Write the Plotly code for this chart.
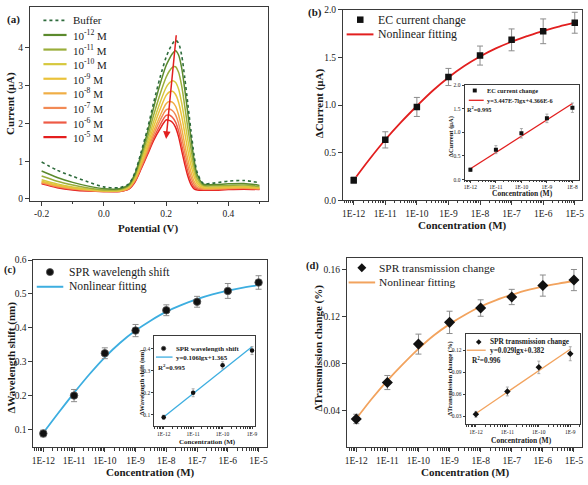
import math
import plotly.graph_objects as go

W, H = 588, 485
SERIF = "Liberation Serif"
AXC = "#3a3a3a"
TXT = "#1a1a1a"


def px(x):
    return x / W


def py(y):
    return 1 - y / H


# ---------------- data: (a) DPV curves ----------------
POTENTIAL = [-0.2, -0.15, -0.1, -0.05, 0.0, 0.05, 0.08, 0.1, 0.12, 0.14, 0.16, 0.18, 0.2, 0.21,
             0.22, 0.23, 0.24, 0.25, 0.26, 0.27, 0.28, 0.29, 0.3, 0.32, 0.35, 0.4, 0.45, 0.5]
BUFFER = [0.98, 0.76, 0.60, 0.45, 0.32, 0.30, 0.40, 0.70, 1.25, 1.85, 2.55, 3.20, 3.75, 3.95,
          4.10, 4.20, 4.12, 3.80, 3.20, 2.50, 1.80, 1.15, 0.70, 0.41, 0.42, 0.47, 0.49, 0.43]
C_1E12 = [0.74, 0.57, 0.44, 0.34, 0.27, 0.27, 0.38, 0.67, 1.19, 1.76, 2.42, 3.02, 3.53, 3.70,
          3.84, 3.92, 3.81, 3.47, 2.90, 2.25, 1.61, 1.03, 0.64, 0.39, 0.38, 0.40, 0.41, 0.36]
C_1E11 = [0.61, 0.47, 0.37, 0.29, 0.24, 0.25, 0.35, 0.62, 1.10, 1.63, 2.22, 2.76, 3.22, 3.38,
          3.48, 3.50, 3.35, 2.99, 2.45, 1.87, 1.33, 0.86, 0.55, 0.36, 0.35, 0.36, 0.37, 0.33]
C_1E10 = [0.51, 0.40, 0.32, 0.26, 0.22, 0.23, 0.33, 0.58, 1.03, 1.51, 2.05, 2.54, 2.95, 3.07,
          3.13, 3.09, 2.91, 2.54, 2.06, 1.55, 1.09, 0.71, 0.47, 0.33, 0.32, 0.33, 0.34, 0.31]
C_1E9 = [0.47, 0.37, 0.30, 0.25, 0.21, 0.22, 0.31, 0.54, 0.96, 1.41, 1.91, 2.36, 2.74, 2.83,
         2.85, 2.77, 2.56, 2.19, 1.74, 1.28, 0.89, 0.59, 0.41, 0.30, 0.30, 0.31, 0.32, 0.29]
C_1E8 = [0.45, 0.35, 0.28, 0.24, 0.21, 0.21, 0.29, 0.51, 0.90, 1.33, 1.79, 2.19, 2.52, 2.58,
         2.56, 2.46, 2.23, 1.87, 1.44, 1.04, 0.71, 0.47, 0.35, 0.28, 0.28, 0.29, 0.30, 0.28]
C_1E7 = [0.43, 0.33, 0.27, 0.23, 0.20, 0.21, 0.28, 0.49, 0.86, 1.27, 1.70, 2.07, 2.36, 2.38,
         2.34, 2.23, 2.00, 1.63, 1.24, 0.87, 0.58, 0.39, 0.30, 0.26, 0.26, 0.28, 0.29, 0.27]
C_1E6 = [0.42, 0.32, 0.26, 0.22, 0.20, 0.20, 0.27, 0.47, 0.83, 1.21, 1.61, 1.95, 2.21, 2.22,
         2.16, 2.04, 1.80, 1.43, 1.06, 0.71, 0.47, 0.32, 0.27, 0.25, 0.25, 0.27, 0.28, 0.26]
C_1E5 = [0.40, 0.30, 0.24, 0.21, 0.20, 0.20, 0.26, 0.45, 0.80, 1.17, 1.55, 1.85, 2.09, 2.08,
         2.03, 1.90, 1.65, 1.28, 0.92, 0.60, 0.38, 0.27, 0.24, 0.23, 0.23, 0.25, 0.26, 0.25]
DPV_NAMES = ["Buffer", "10<sup>-12</sup> M", "10<sup>-11</sup> M", "10<sup>-10</sup> M",
             "10<sup>-9</sup> M", "10<sup>-8</sup> M", "10<sup>-7</sup> M", "10<sup>-6</sup> M",
             "10<sup>-5</sup> M"]
DPV_COLORS = ["#2E6B3C", "#5B8A2D", "#9AAE3A", "#D6C83E", "#EAC23A", "#F0AE45", "#F28A55",
              "#EE5A45", "#E41E1E"]

# ---------------- data: concentration responses ----------------
CONC_EXP = [-12, -11, -10, -9, -8, -7, -6, -5]
CONC_LABELS = ["1E-12", "1E-11", "1E-10", "1E-9", "1E-8", "1E-7", "1E-6", "1E-5"]
FIT_EXP = [-12, -11.5, -11, -10.5, -10, -9.5, -9, -8.5, -8, -7.5, -7, -6.5, -6, -5.5, -5]

EC_CURRENT = [0.21, 0.634, 0.98, 1.295, 1.52, 1.685, 1.775, 1.865]
EC_ERR = [0.035, 0.085, 0.10, 0.09, 0.10, 0.115, 0.13, 0.11]
EC_FIT = [0.21, 0.43, 0.635, 0.82, 0.99, 1.15, 1.29, 1.41, 1.51, 1.595, 1.665, 1.725, 1.78,
          1.825, 1.865]
EC_LINEAR = [0.23, 1.61]

SPR_SHIFT = [0.088, 0.200, 0.325, 0.392, 0.452, 0.477, 0.509, 0.534]
SPR_SHIFT_ERR = [0.010, 0.018, 0.016, 0.018, 0.016, 0.016, 0.022, 0.020]
SHIFT_FIT = [0.09, 0.15, 0.208, 0.263, 0.313, 0.356, 0.392, 0.422, 0.448, 0.468, 0.485, 0.499,
             0.51, 0.519, 0.526]
SHIFT_LINEAR = [0.09, 0.41]

SPR_TRANS = [0.0328, 0.0638, 0.0965, 0.115, 0.1272, 0.1366, 0.1463, 0.151]
SPR_TRANS_ERR = [0.004, 0.006, 0.0085, 0.0095, 0.007, 0.0065, 0.009, 0.009]
TRANS_FIT = [0.033, 0.05, 0.0655, 0.0795, 0.0925, 0.104, 0.1135, 0.1215, 0.1285, 0.134, 0.1385,
             0.1425, 0.1455, 0.148, 0.1502]
TRANS_LINEAR = [0.034, 0.121]

RED = "#E21F1F"
BLUE = "#3DAEE0"
ORANGE = "#F2A35E"

fig = go.Figure()

# ---- panel (a) ----
dpv_series = [BUFFER, C_1E12, C_1E11, C_1E10, C_1E9, C_1E8, C_1E7, C_1E6, C_1E5]
for i in range(len(dpv_series) - 1, -1, -1):
    fig.add_trace(go.Scatter(
        x=POTENTIAL, y=dpv_series[i], mode="lines", xaxis="x", yaxis="y",
        line=dict(color=DPV_COLORS[i], width=1.5 if i else 1.6, shape="spline", smoothing=0.8,
                  dash="dot" if i == 0 else "solid"),
        showlegend=False, hoverinfo="skip"))

err_style = dict(type="data", color="#8c8c8c", thickness=1, width=3)
ins_err = dict(type="data", color="#999", thickness=0.8, width=1.5)

# ---- panel (b) ----
fig.add_trace(go.Scatter(x=FIT_EXP, y=EC_FIT, mode="lines", xaxis="x2", yaxis="y2",
                         line=dict(color=RED, width=1.8, shape="spline"), showlegend=False))
fig.add_trace(go.Scatter(x=CONC_EXP, y=EC_CURRENT, mode="markers", xaxis="x2", yaxis="y2",
                         error_y=dict(array=EC_ERR, **err_style),
                         marker=dict(symbol="square", size=6.5, color="#111"), showlegend=False))
# inset (b)
fig.add_trace(go.Scatter(x=[CONC_EXP[0], CONC_EXP[4]], y=EC_LINEAR, mode="lines", xaxis="x5",
                         yaxis="y5", line=dict(color=RED, width=1.3), showlegend=False))
fig.add_trace(go.Scatter(x=CONC_EXP[:5], y=EC_CURRENT[:5], mode="markers", xaxis="x5", yaxis="y5",
                         error_y=dict(array=EC_ERR[:5], **ins_err),
                         marker=dict(symbol="square", size=4, color="#111"), showlegend=False))

# ---- panel (c) ----
fig.add_trace(go.Scatter(x=FIT_EXP, y=SHIFT_FIT, mode="lines", xaxis="x3", yaxis="y3",
                         line=dict(color=BLUE, width=1.8, shape="spline"), showlegend=False))
fig.add_trace(go.Scatter(x=CONC_EXP, y=SPR_SHIFT, mode="markers", xaxis="x3", yaxis="y3",
                         error_y=dict(array=SPR_SHIFT_ERR, **err_style),
                         marker=dict(symbol="circle", size=7.5, color="#111",
                                     line=dict(color="#555", width=0.8)), showlegend=False))
fig.add_trace(go.Scatter(x=[CONC_EXP[0], CONC_EXP[3]], y=SHIFT_LINEAR, mode="lines", xaxis="x6",
                         yaxis="y6", line=dict(color=BLUE, width=1.3), showlegend=False))
fig.add_trace(go.Scatter(x=CONC_EXP[:4], y=SPR_SHIFT[:4], mode="markers", xaxis="x6", yaxis="y6",
                         error_y=dict(array=SPR_SHIFT_ERR[:4], **ins_err),
                         marker=dict(symbol="circle", size=4.5, color="#111"), showlegend=False))

# ---- panel (d) ----
fig.add_trace(go.Scatter(x=FIT_EXP, y=TRANS_FIT, mode="lines", xaxis="x4", yaxis="y4",
                         line=dict(color=ORANGE, width=1.8, shape="spline"), showlegend=False))
fig.add_trace(go.Scatter(x=CONC_EXP, y=SPR_TRANS, mode="markers", xaxis="x4", yaxis="y4",
                         error_y=dict(array=SPR_TRANS_ERR, **err_style),
                         marker=dict(symbol="diamond", size=8.5, color="#111"), showlegend=False))
fig.add_trace(go.Scatter(x=[CONC_EXP[0], CONC_EXP[3]], y=TRANS_LINEAR, mode="lines", xaxis="x7",
                         yaxis="y7", line=dict(color=ORANGE, width=1.3), showlegend=False))
fig.add_trace(go.Scatter(x=CONC_EXP[:4], y=SPR_TRANS[:4], mode="markers", xaxis="x7", yaxis="y7",
                         error_y=dict(array=SPR_TRANS_ERR[:4], **ins_err),
                         marker=dict(symbol="diamond", size=5, color="#111"), showlegend=False))


# ---------------- axes ----------------
def log_minor(lo, hi):
    vals = []
    for k in range(-13, -3):
        for m in range(2, 10):
            v = k + math.log10(m)
            if lo < v < hi:
                vals.append(v)
    return vals


def axis(x0, x1, anchor, rng, tickvals, ticktext, fsize, tlen, minor=None, horiz=True):
    if horiz:
        dom = [px(x0), px(x1)]
    else:
        dom = [py(x1), py(x0)]
    d = dict(domain=dom, anchor=anchor, range=rng, tickmode="array", tickvals=tickvals,
             ticktext=ticktext, showline=True, linecolor=AXC, linewidth=1, mirror=True,
             ticks="outside", ticklen=tlen, tickwidth=1, tickcolor=AXC,
             tickfont=dict(family=SERIF, size=fsize, color=TXT), showgrid=False,
             zeroline=False, fixedrange=True)
    if minor is not None:
        d["minor"] = dict(tickvals=minor, ticks="outside", ticklen=max(1.5, tlen * 0.55),
                          tickcolor=AXC, tickwidth=1, showgrid=False)
    return d


MAIN_F = 9.5
INS_F = 5.5
layout = dict(
    width=W, height=H, autosize=False, margin=dict(l=0, r=0, t=0, b=0),
    paper_bgcolor="white", plot_bgcolor="white", showlegend=False,
    xaxis=axis(28, 268, "y", [-0.238, 0.528], [-0.2, 0.0, 0.2, 0.4],
               ["-0.2", "0.0", "0.2", "0.4"], MAIN_F, 4, minor=[-0.1, 0.1, 0.3, 0.5]),
    yaxis=axis(2, 200, "x", [-0.05, 5.08], [0, 1, 2, 3, 4], ["0", "1", "2", "3", "4"],
               MAIN_F, 4, horiz=False),
    xaxis2=axis(343.3, 584, "y2", [-12.34, -4.77], CONC_EXP, CONC_LABELS, MAIN_F, 4,
                minor=log_minor(-12.34, -4.77)),
    yaxis2=axis(5, 199.3, "x2", [0, 2.0], [0, 0.5, 1.0, 1.5, 2.0],
                ["0.0", "0.5", "1.0", "1.5", "2.0"], MAIN_F, 4, horiz=False),
    xaxis3=axis(31.7, 266.7, "y3", [-12.32, -4.73], CONC_EXP, CONC_LABELS, MAIN_F, 4,
                minor=log_minor(-12.32, -4.73)),
    yaxis3=axis(260.5, 451.7, "x3", [0.047, 0.6], [0.1, 0.2, 0.3, 0.4, 0.5, 0.6],
                ["0.1", "0.2", "0.3", "0.4", "0.5", "0.6"], MAIN_F, 4, horiz=False),
    xaxis4=axis(347.3, 584, "y4", [-12.3, -4.74], CONC_EXP, CONC_LABELS, MAIN_F, 4,
                minor=log_minor(-12.3, -4.74)),
    yaxis4=axis(258.3, 451.7, "x4", [0.0086, 0.1698], [0.04, 0.08, 0.12, 0.16],
                ["0.04", "0.08", "0.12", "0.16"], MAIN_F, 4, horiz=False),
    xaxis5=axis(465.7, 581, "y5", [-12.23, -7.74], CONC_EXP[:5], CONC_LABELS[:5], INS_F, 2,
                minor=log_minor(-12.23, -7.74)),
    yaxis5=axis(81.7, 178.3, "x5", [0, 2.0], [0, 0.5, 1.0, 1.5, 2.0],
                ["0.0", "0.5", "1.0", "1.5", "2.0"], INS_F, 2, horiz=False),
    xaxis6=axis(153.3, 255, "y6", [-12.32, -8.89], CONC_EXP[:4], CONC_LABELS[:4], INS_F, 2,
                minor=log_minor(-12.32, -8.89)),
    yaxis6=axis(338.3, 430, "x6", [0.048, 0.457], [0.1, 0.2, 0.3, 0.4],
                ["0.1", "0.2", "0.3", "0.4"], INS_F, 2, horiz=False),
    xaxis7=axis(466.7, 582.3, "y7", [-12.33, -8.68], CONC_EXP[:4], CONC_LABELS[:4], INS_F, 2,
                minor=log_minor(-12.33, -8.68)),
    yaxis7=axis(336, 428.3, "x7", [0.019, 0.1417], [0.03, 0.06, 0.09, 0.12],
                ["0.03", "0.06", "0.09", "0.12"], INS_F, 2, horiz=False),
)
fig.update_layout(**layout)

annotations = []
shapes = []


def text(x, y, s, size, bold=False, anchor="center", angle=0):
    annotations.append(dict(
        x=px(x), y=py(y), xref="paper", yref="paper", text=f"<b>{s}</b>" if bold else s,
        showarrow=False, xanchor=anchor, yanchor="middle", textangle=angle,
        font=dict(family=SERIF, size=size, color=TXT)))


def hline(x0, x1, y, color, width, dash="solid"):
    shapes.append(dict(type="line", xref="paper", yref="paper", x0=px(x0), x1=px(x1),
                       y0=py(y), y1=py(y), line=dict(color=color, width=width, dash=dash)))


def square(cx, cy, r):
    shapes.append(dict(type="rect", xref="paper", yref="paper", x0=px(cx - r), x1=px(cx + r),
                       y0=py(cy + r), y1=py(cy - r), fillcolor="#111", line=dict(width=0)))


def circle(cx, cy, r):
    shapes.append(dict(type="circle", xref="paper", yref="paper", x0=px(cx - r), x1=px(cx + r),
                       y0=py(cy + r), y1=py(cy - r), fillcolor="#111",
                       line=dict(color="#555", width=0.8)))


def diamond(cx, cy, r):
    path = (f"M {px(cx)},{py(cy - r)} L {px(cx + r)},{py(cy)} L {px(cx)},{py(cy + r)} "
            f"L {px(cx - r)},{py(cy)} Z")
    shapes.append(dict(type="path", xref="paper", yref="paper", path=path, fillcolor="#111",
                       line=dict(width=0)))


# panel labels
text(12, 15, "(a)", 11, bold=True)
text(315, 8, "(b)", 11, bold=True)
text(8.5, 271, "(c)", 10.5, bold=True)
text(312.5, 266, "(d)", 10.5, bold=True)

# axis titles (main)
text(148, 228, "Potential (V)", 11, bold=True)
text(9, 100, "Current (μA)", 11, bold=True, angle=-90)
text(464, 225, "Concentration (M)", 11, bold=True)
text(320.5, 100, "ΔCurrent (μA)", 11, bold=True, angle=-90)
text(150, 477, "Concentration (M)", 11, bold=True)
text(10, 360, "ΔWavelength shift (nm)", 11, bold=True, angle=-90)
text(467, 477, "Concentration (M)", 11, bold=True)
text(319, 350, "ΔTransmission change (%)", 11, bold=True, angle=-90)

# inset titles
text(524, 192.5, "Concentration (M)", 7.5, bold=True)
text(452, 134, "ΔCurrent (μA)", 6.5, bold=True, angle=-90)
text(206.5, 446, "Concentration (M)", 7, bold=True)
text(140.5, 386, "ΔWavelength shift (nm)", 6.5, bold=True, angle=-90)
text(523.5, 445, "Concentration (M)", 7.5, bold=True)
text(451, 381, "ΔTransmission change (%)", 6.5, bold=True, angle=-90)

# legend (a)
for i, name in enumerate(DPV_NAMES):
    yy = 15.7 + i * 14.9
    hline(41.7, 65, yy, DPV_COLORS[i], 1.6 if i == 0 else 2.2, "dot" if i == 0 else "solid")
    text(69.5, yy, name, 11, anchor="left")

# legend (b)
square(360.7, 15, 3.3)
text(377, 15, "EC current change", 11.8, anchor="left")
hline(347, 374, 30, RED, 2)
text(377, 30, "Nonlinear fitting", 11.8, anchor="left")
# inset legend (b)
square(476, 87.3, 2)
text(486, 87.3, "EC current change", 6.3, bold=True, anchor="left")
hline(470, 485, 97.3, RED, 1.3)
text(486, 97.3, "y=3.447E-7lgx+4.366E-6", 6.3, bold=True, anchor="left")
text(466.5, 106.5, "R<sup>2</sup>=0.995", 6.3, bold=True, anchor="left")

# legend (c)
circle(48.3, 272.7, 3.6)
text(65, 272.7, "SPR wavelength shift", 11.6, anchor="left")
hline(35, 61.7, 287.7, BLUE, 2)
text(65, 287.7, "Nonlinear fitting", 11.6, anchor="left")
# inset legend (c)
circle(162.7, 350.7, 2.2)
text(172.8, 350.7, "SPR wavelength shift", 6.9, bold=True, anchor="left")
hline(155, 171.7, 359.5, BLUE, 1.3)
text(172.8, 359.5, "y=0.106lgx+1.365", 6.9, bold=True, anchor="left")
text(155.5, 369.5, "R<sup>2</sup>=0.995", 6.9, bold=True, anchor="left")

# legend (d)
diamond(362.3, 268.3, 4.5)
text(377.3, 268.3, "SPR transmission change", 11.4, anchor="left")
hline(349, 375.7, 283.3, ORANGE, 2)
text(377.3, 283.3, "Nonlinear fitting", 11.4, anchor="left")
# inset legend (d)
diamond(480, 344, 2.8)
text(489, 344, "SPR transmission change", 7.3, bold=True, anchor="left")
hline(468, 487, 352.5, ORANGE, 1.3)
text(489, 352.5, "y=0.029lgx+0.382", 7.3, bold=True, anchor="left")
text(471.5, 362.5, "R<sup>2</sup>=0.996", 7.3, bold=True, anchor="left")

# arrow in (a)
annotations.append(dict(x=0.2, y=1.59, xref="x", yref="y", ax=0.233, ay=4.37, axref="x",
                        ayref="y", text="", showarrow=True, arrowhead=2, arrowsize=1,
                        arrowwidth=1.5, arrowcolor=RED))

fig.update_layout(annotations=annotations, shapes=shapes)

fig.write_html("out.html", config={"displayModeBar": False},
               post_script="document.body.style.margin='0';")
